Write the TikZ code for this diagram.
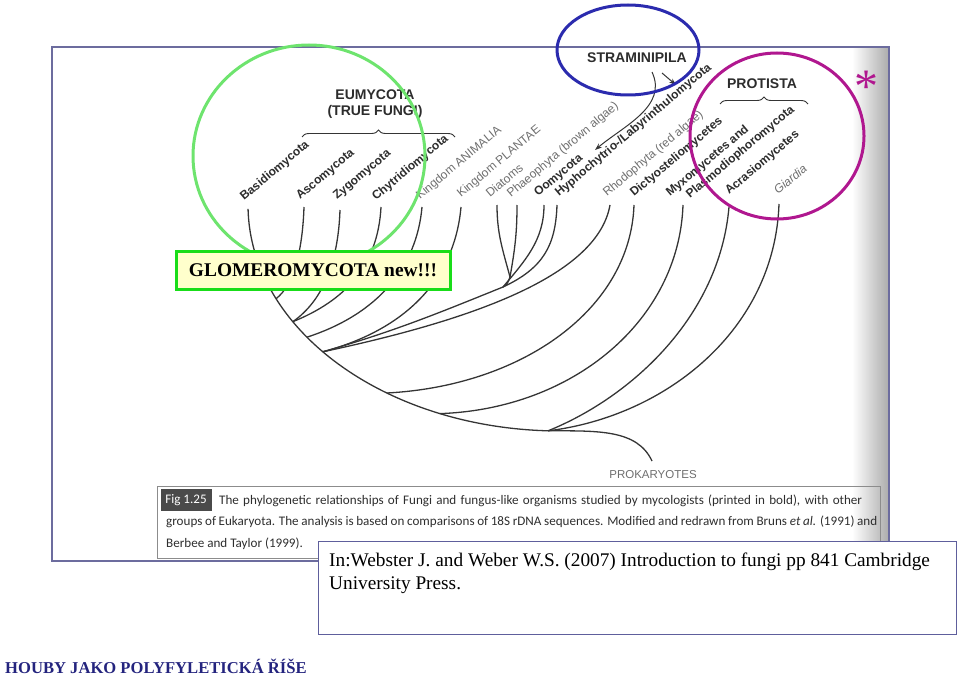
\documentclass[tikz,border=0pt]{standalone}
\usepackage{fontspec}
\setmainfont{Liberation Serif}
\newfontfamily\labfont{Liberation Sans}
\newfontfamily\capfont{Carlito}
\newfontfamily\serfont{Liberation Serif}
\usetikzlibrary{arrows.meta,decorations.pathreplacing,calc}
\definecolor{treeC}{HTML}{353535}
\definecolor{labG}{HTML}{6E6E6E}
\definecolor{labB}{HTML}{2C2C2C}
\definecolor{frameC}{HTML}{6C6C9E}
\definecolor{citeC}{HTML}{5E5E9C}
\definecolor{glCirc}{HTML}{6EE46E}
\definecolor{glBorder}{HTML}{19DD19}
\definecolor{glFill}{HTML}{FFFFCC}
\definecolor{strC}{HTML}{2B2BAE}
\definecolor{magC}{HTML}{B0178F}
\definecolor{houbyC}{HTML}{24247E}
\definecolor{figC}{HTML}{4A4A4A}
\definecolor{capC}{HTML}{2E2E2E}
\definecolor{capFrame}{HTML}{8C8C8C}
\tikzset{
  treeline/.style={draw=treeC, line width=1.3pt},
  lab/.style={rotate=40, anchor=base west, inner sep=0pt, text=labG,
    font=\labfont\fontsize{12}{14}\selectfont},
  labb/.style={lab, text=labB, font=\labfont\bfseries\fontsize{12}{14}\selectfont},
  grouplab/.style={inner sep=0pt, text=labB, align=center,
    font=\labfont\bfseries\fontsize{14}{15.5}\selectfont},
  capn/.style={anchor=base west, inner sep=0pt, text=capC,
    font=\capfont\fontsize{13.1}{15}\selectfont},
  bracetop/.style={draw=treeC, line width=0.9pt, decorate,
    decoration={brace, amplitude=7pt}}
}
\begin{document}
\begin{tikzpicture}[x=1pt,y=1pt]
\useasboundingbox (0,0) rectangle (960,-679);
% page scan frame and right-edge shadow
\shade[left color=white, right color=black!32] (852,-48) rectangle (888,-560);
\draw[frameC, line width=1.5pt] (52,-47) rectangle (889,-561);

% ---- tree coordinates ----
\coordinate (basT) at (248.05,-208.94);
\coordinate (ascT) at (304,-207);
\coordinate (zygT) at (340,-210);
\coordinate (chyT) at (381,-207);
\coordinate (aniT) at (422,-207);
\coordinate (plaT) at (461,-207);
\coordinate (diaT) at (497,-205);
\coordinate (phaT) at (517,-205);
\coordinate (oomT) at (544,-205);
\coordinate (hypT) at (557,-205);
\coordinate (rhoT) at (610,-205);
\coordinate (dicT) at (634,-205);
\coordinate (myxT) at (683,-205);
\coordinate (acrT) at (729,-207);
\coordinate (giaT) at (779,-204);
\coordinate (jA) at (276.1,-298.7);
\coordinate (jZ) at (292.8,-321.7);
\coordinate (jN) at (306.9,-337.2);
\coordinate (jP) at (322.8,-351.8);
\coordinate (jD) at (386.9,-393.0);
\coordinate (jM) at (440.1,-413.6);
\coordinate (root) at (548.02,-430.83);
\coordinate (j1) at (510,-277);
\coordinate (j3) at (503,-287);
\coordinate (prok) at (652,-461);

% backbone (elliptic arc from Basidiomycota to the root)
\draw[treeline] (basT) arc[start angle=181, end angle=267.8, x radius=312, y radius=226];
% branches
\draw[treeline] (ascT) to[out=-92, in=38, out distance=45, in distance=22] (jA);
\draw[treeline] (zygT) to[out=-92, in=35, out distance=55, in distance=35] (jZ);
\draw[treeline] (chyT) to[out=-93, in=22, out distance=60, in distance=55] (jZ);
\draw[treeline] (aniT) to[out=-95, in=18, out distance=60, in distance=75] (jN);
\draw[treeline] (plaT) to[out=-95, in=15, out distance=60, in distance=100] (jP);
\draw[treeline] (jP) to[out=16, in=-158, out distance=75, in distance=70] (j3);
\draw[treeline] (j3) to[out=30, in=-110, out distance=5, in distance=5] (j1);
\draw[treeline] (diaT) to[out=-90, in=105] (j1);
\draw[treeline] (phaT) to[out=-90, in=80] (j1);
\draw[treeline] (oomT) to[out=-90, in=50, out distance=35, in distance=35] (j3);
\draw[treeline] (hypT) to[out=-92, in=25, out distance=40, in distance=45] (j3);
\draw[treeline] (rhoT) to[out=-100, in=12, out distance=70, in distance=160] (jP);
\draw[treeline] (dicT) to[out=-92, in=3, out distance=104, in distance=136] (jD);
\draw[treeline] (myxT) to[out=-92, in=2, out distance=115, in distance=134] (jM);
\draw[treeline] (acrT) to[out=-95, in=22, out distance=110, in distance=90] (root);
\draw[treeline] (giaT) to[out=-92, in=7, out distance=125, in distance=120] (root);
\draw[treeline] (root) to[out=0, in=115, out distance=50, in distance=35] (prok);

% ---- taxon labels ----
\node[labb] (lBas) at (244,-201) {Basidiomycota};
\node[labb] (lAsc) at (300,-200) {Ascomycota};
\node[labb] (lZyg) at (337,-200) {Zygomycota};
\node[labb] (lChy) at (376,-201) {Chytridiomycota};
\node[lab] (lAni) at (420,-200) {Kingdom ANIMALIA};
\node[lab] (lPla) at (461,-198) {Kingdom PLANTAE};
\node[lab] (lDia) at (490,-198) {Diatoms};
\node[lab] (lPha) at (511,-198) {Phaeophyta (brown algae)};
\node[labb] (lOom) at (538,-197) {Oomycota};
\node[labb] (lHyp) at (559,-197) {Hyphochytrio-/Labyrinthulomycota};
\node[lab] (lRho) at (607,-197) {Rhodophyta (red algae)};
\node[labb] (lDic) at (634,-197) {Dictyosteliomycetes};
\node[labb] (lMyx) at (670,-197) {Myxomycetes and};
\node[labb] (lPlas) at (690,-199) {Plasmodiophoromycota};
\node[labb] (lAcr) at (729,-195) {Acrasiomycetes};
\node[lab, font=\labfont\itshape\fontsize{12}{14}\selectfont] (lGia) at (778,-195) {Giardia};
\node[inner sep=0pt, text=labG, font=\labfont\fontsize{11.5}{13}\selectfont] (lProk) at (653,-475) {PROKARYOTES};

% ---- group labels and braces ----
\node[grouplab] (lEum) at (375,-104) {EUMYCOTA\\(TRUE FUNGI)};
\coordinate (eumL) at (302,-137);
\coordinate (eumR) at (455,-137);
\draw[bracetop] (eumL) -- (eumR);
\node[grouplab] (lPro) at (762,-84) {PROTISTA};
\coordinate (proL) at (720,-104);
\coordinate (proR) at (808,-104);
\draw[bracetop] (proL) -- (proR);
\node[grouplab] (lStr) at (637,-58) {STRAMINIPILA};
\coordinate (sA) at (652,-72);
\coordinate (eA) at (595,-150);
\coordinate (sB) at (662,-73);
\coordinate (eB) at (676,-85);
\draw[draw=treeC, line width=1pt, -{Stealth[length=7pt,width=5pt]}] (sA) to[out=-65, in=40] (eA);
\draw[draw=treeC, line width=1pt, -{Stealth[length=7pt,width=5pt]}] (sB) -- (eB);

% ---- caption ----
\draw[capFrame, line width=0.8pt] (157,-486) rectangle (880,-558);
\node[fill=figC, text=white, minimum width=51pt, minimum height=22pt, inner sep=0pt,
  font=\capfont\fontsize{13.1}{15}\selectfont] (fig) at (186,-500) {Fig 1.25};
\node[capn] (cap1) at (219,-504.5) {\makebox[643pt][s]{The phylogenetic relationships of Fungi and fungus-like organisms studied by mycologists (printed in bold), with other}};
\node[capn] (cap2) at (166,-525.5) {\makebox[711pt][s]{groups of Eukaryota. The analysis is based on comparisons of 18S rDNA sequences. Modified and redrawn from Bruns \textit{et al.} (1991) and}};
\node[capn] (cap3) at (166,-547) {Berbee and Taylor (1999).};

% ---- highlight circles ----
\draw[glCirc, line width=3pt] (309,-156) ellipse [x radius=116, y radius=111];
\draw[strC, line width=3pt] (628,-50) ellipse [x radius=71, y radius=45];
\draw[magC, line width=3pt] (777,-136) ellipse [x radius=87, y radius=83];
\node[inner sep=0pt, anchor=base, text=magC, font=\serfont\fontsize{48}{48}\selectfont] (ast) at (866,-103) {*};

% ---- GLOMEROMYCOTA box ----
\node[draw=glBorder, line width=3pt, fill=glFill, minimum width=274pt, minimum height=38pt,
  inner sep=0pt, font=\serfont\bfseries\fontsize{19.4}{22}\selectfont] (glom) at (313,-270) {GLOMEROMYCOTA new!!!};

% ---- citation box ----
\node[draw=citeC, line width=1.3pt, fill=white, minimum width=638pt, minimum height=93pt,
  inner sep=0pt, anchor=north west] (cite) at (318,-541) {};
\node[anchor=base west, inner sep=0pt, font=\serfont\fontsize{19.3}{23}\selectfont] (cit1) at (329,-566) {In:Webster J. and Weber W.S. (2007) Introduction to fungi pp 841 Cambridge};
\node[anchor=base west, inner sep=0pt, font=\serfont\fontsize{19.3}{23}\selectfont] (cit2) at (329,-589) {University Press.};

% ---- title ----
\node[anchor=base west, inner sep=0pt, text=houbyC, font=\serfont\bfseries\fontsize{16.6}{18}\selectfont] (houby) at (5,-673) {HOUBY JAKO POLYFYLETICKÁ ŘÍŠE};
\end{tikzpicture}
\end{document}
